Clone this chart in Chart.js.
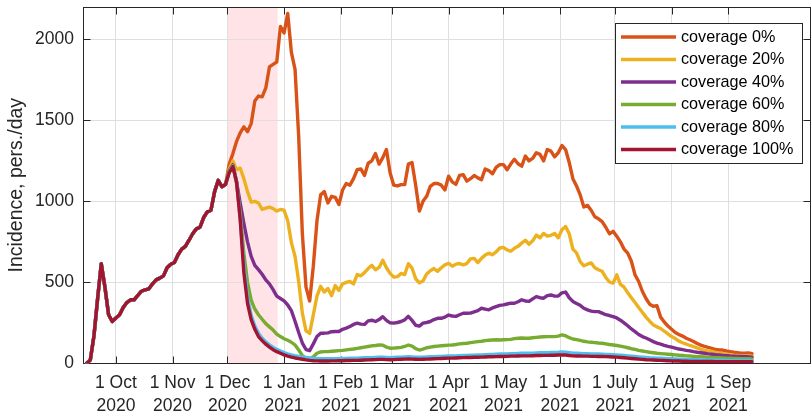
<!DOCTYPE html>
<html>
<head>
<meta charset="utf-8">
<script src="https://cdn.jsdelivr.net/npm/chart.js@4.4.0/dist/chart.umd.min.js"></script>
<style>
  html, body { margin: 0; padding: 0; background: #fff; }
  #wrap { width: 812px; height: 416px; }
</style>
</head>
<body>
<div id="wrap"><canvas id="c" width="812" height="416"></canvas></div>
<script>
// Time axis: days since 1 Oct 2020. Samples every second day from 15 Sep 2020 to 14 Sep 2021.
const firstDay = -16;
const stepDays = 2;

// Month ticks (days since 1 Oct 2020) and their two-line labels
const monthTicks = [0, 31, 61, 92, 123, 151, 182, 212, 243, 273, 304, 335];
const monthLabels = ['1 Oct', '1 Nov', '1 Dec', '1 Jan', '1 Feb', '1 Mar', '1 Apr', '1 May', '1 Jun', '1 July', '1 Aug', '1 Sep'];
const yearLabels = ['2020', '2020', '2020', '2021', '2021', '2021', '2021', '2021', '2021', '2021', '2021', '2021'];
const yTicks = [0, 500, 1000, 1500, 2000];

// Shaded period (1 Dec 2020 .. 29 Dec 2020)
const bandStart = 61;
const bandEnd = 88.5;

// Incidence common to all scenarios, 15 Sep .. 29 Nov 2020
const commonRise = [
  0, 20, 170, 400, 615, 470, 300, 258, 280, 300,
  345, 375, 392, 392, 420, 445, 454, 460, 490, 515,
  526, 540, 590, 612, 622, 670, 705, 722, 760, 800,
  830, 840, 900, 935, 945, 1060, 1130, 1090, 1105
];

// Scenario incidence from 1 Dec 2020 on (pers./day)
const cov0 = [
  1230, 1295, 1370, 1423, 1460, 1430, 1480, 1620, 1650, 1645,
  1700, 1830, 1846, 1860, 2080, 2040, 2160, 1920, 1815, 1400,
  800, 470, 385, 600, 880, 1040, 1060, 990, 1031, 1025,
  980, 1070, 1110, 1100, 1140, 1195, 1200, 1160, 1235, 1250,
  1295, 1230, 1270, 1320, 1176, 1100, 1095, 1103, 1103, 1230,
  1240, 1100, 940, 1000, 1031, 1093, 1110, 1110, 1100, 1070,
  1155, 1120, 1105, 1160, 1165, 1125, 1140, 1160, 1145, 1134,
  1200, 1190, 1170, 1210, 1227, 1227, 1195, 1230, 1260, 1232,
  1217, 1280, 1250, 1265, 1300, 1290, 1250, 1320, 1310, 1275,
  1300, 1345, 1320, 1240, 1140, 1095, 1040, 965, 975, 945,
  905, 892, 875, 840, 800, 815, 785, 750, 705, 680,
  630, 546, 505, 445, 400, 365, 352, 355, 285, 255,
  230, 210, 190, 178, 168, 155, 145, 135, 122, 112,
  105, 98, 92, 85, 82, 82, 76, 72, 68, 66,
  63, 62, 64, 60
];
const cov20 = [
  1200, 1250, 1195, 1205, 1140, 1060, 995, 1000, 990, 950,
  958, 965, 955, 940, 950, 945, 880, 745, 660, 505,
  310, 200, 185, 300, 415, 475, 440, 462, 418, 480,
  450, 490, 500, 505, 490, 548, 540, 560, 585, 605,
  578, 592, 636, 590, 555, 532, 535, 555, 548, 615,
  588, 522, 497, 508, 552, 572, 585, 568, 590, 608,
  618, 600, 612, 616, 608, 616, 645, 648, 622, 648,
  668, 680, 670, 688, 712, 716, 700, 692, 710, 722,
  742, 760, 735, 756, 792, 775, 802, 785, 790, 802,
  775, 825, 845, 800, 705, 682, 628, 602, 612, 620,
  590, 578, 568, 530, 502, 495, 546, 487, 470, 435,
  405, 375, 345, 315, 285, 260, 237, 225, 215, 198,
  182, 165, 153, 137, 127, 119, 110, 103, 95, 87,
  80, 76, 73, 68, 62, 59, 56, 53, 50, 48,
  47, 46, 45, 44
];
const cov40 = [
  1190, 1225, 1120, 990, 865, 750, 660, 605, 578, 550,
  515, 490, 455, 415, 400, 385, 360, 325, 260, 190,
  125, 85, 78, 120, 165, 186, 186, 188, 195, 196,
  196, 210, 217, 227, 240, 248, 242, 240, 262, 266,
  258, 270, 288, 265, 250, 248, 252, 258, 268, 290,
  265, 235, 230, 248, 252, 258, 270, 278, 278, 285,
  298, 292, 290, 300, 309, 309, 310, 318, 325, 340,
  335, 330, 342, 350, 358, 361, 366, 371, 371, 380,
  392, 385, 382, 398, 412, 405, 402, 418, 422, 415,
  415, 435, 440, 405, 382, 370, 358, 340, 330, 322,
  319, 319, 310, 300, 295, 288, 280, 266, 250, 232,
  212, 196, 178, 165, 156, 145, 134, 125, 118, 111,
  105, 100, 94, 88, 84, 80, 77, 72, 68, 65,
  62, 58, 56, 53, 51, 49, 47, 45, 44, 43,
  42, 41, 40, 38
];
const cov60 = [
  1185, 1220, 1110, 930, 680, 500, 390, 335, 300, 272,
  245, 225, 205, 180, 165, 152, 142, 130, 113, 82,
  48, 30, 27, 40, 62, 70, 72, 72, 74, 76,
  78, 80, 83, 86, 88, 92, 96, 100, 104, 108,
  110, 113, 112, 100, 93, 94, 96, 98, 104, 113,
  106, 90, 82, 88, 96, 100, 104, 106, 108, 110,
  112, 113, 116, 120, 122, 124, 128, 131, 134, 136,
  140, 142, 144, 145, 144, 145, 146, 148, 152, 155,
  156, 155, 155, 158, 160, 162, 164, 165, 165, 165,
  168, 175, 170, 158, 150, 146, 142, 136, 132, 130,
  128, 125, 124, 120, 116, 113, 110, 106, 101, 96,
  90, 86, 80, 76, 72, 68, 65, 62, 60, 58,
  56, 54, 52, 50, 48, 46, 45, 43, 41, 40,
  39, 37, 36, 35, 34, 33, 32, 31, 30, 30,
  29, 28, 28, 27
];
const cov80 = [
  1180, 1218, 1125, 895, 610, 410, 295, 230, 185, 155,
  132, 114, 98, 86, 76, 66, 58, 52, 47, 43,
  39, 36, 33, 31, 30, 29, 28, 28, 28, 29,
  29, 30, 30, 31, 31, 32, 33, 34, 34, 35,
  36, 37, 37, 36, 35, 36, 37, 38, 39, 40,
  39, 38, 37, 38, 39, 40, 41, 42, 43, 44,
  45, 45, 46, 47, 48, 49, 50, 50, 51, 52,
  53, 54, 55, 56, 57, 57, 58, 59, 60, 61,
  62, 62, 62, 63, 64, 65, 66, 66, 67, 67,
  68, 70, 69, 66, 63, 62, 61, 60, 59, 58,
  57, 57, 56, 55, 54, 53, 52, 50, 48, 46,
  44, 42, 40, 38, 36, 34, 33, 32, 31, 30,
  29, 28, 27, 26, 25, 24, 23, 22, 22, 21,
  21, 20, 20, 19, 19, 19, 18, 18, 18, 17,
  17, 17, 17, 16
];
const cov100 = [
  1178, 1215, 1120, 887, 560, 370, 270, 210, 165, 140,
  118, 100, 84, 72, 62, 52, 44, 38, 33, 29,
  25, 21, 18, 16, 15, 14, 14, 14, 15, 15,
  16, 16, 17, 17, 18, 18, 19, 20, 21, 22,
  23, 24, 24, 23, 22, 23, 24, 25, 26, 27,
  26, 25, 24, 25, 26, 27, 28, 29, 30, 31,
  32, 32, 33, 34, 35, 36, 36, 37, 37, 38,
  39, 40, 40, 41, 42, 42, 43, 44, 44, 45,
  46, 46, 46, 47, 48, 48, 49, 49, 50, 50,
  51, 52, 51, 48, 46, 45, 45, 44, 44, 43,
  43, 42, 42, 41, 40, 39, 38, 36, 34, 32,
  30, 28, 26, 24, 22, 21, 20, 19, 18, 17,
  16, 15, 14, 14, 13, 13, 12, 12, 12, 11,
  11, 11, 11, 10, 10, 10, 10, 10, 10, 10,
  10, 10, 10, 10
];

const scenarioNames = ['coverage 0%', 'coverage 20%', 'coverage 40%', 'coverage 60%', 'coverage 80%', 'coverage 100%'];
const scenarioTails = [cov0, cov20, cov40, cov60, cov80, cov100];
const scenarioColors = ['#D95319', '#EDB120', '#7E2F8E', '#77AC30', '#4DBEEE', '#A2142F'];

const FONT = "'Liberation Sans', Arial, Helvetica, sans-serif";
const AXIS_COLOR = '#262626';

function toPoints(tail) {
  const vals = commonRise.concat(tail);
  return vals.map((v, i) => ({ x: firstDay + stepDays * i, y: v }));
}

const datasets = scenarioNames.map((name, i) => ({
  label: name,
  data: toPoints(scenarioTails[i]),
  borderColor: scenarioColors[i],
  backgroundColor: scenarioColors[i],
  borderWidth: 3.4,
  pointRadius: 0,
  tension: 0,
  fill: false,
  borderJoinStyle: 'round',
  borderCapStyle: 'round',
  order: scenarioNames.length - i   // later scenarios drawn on top
}));

// Shaded period, box frame, inward tick marks and the legend
const framePlugin = {
  id: 'frame',
  beforeDraw(chart) {
    const { ctx, chartArea: a, scales: { x } } = chart;
    const x0 = x.getPixelForValue(bandStart);
    const x1 = x.getPixelForValue(bandEnd);
    ctx.save();
    ctx.fillStyle = 'rgb(255, 227, 230)';
    ctx.fillRect(x0, a.top, x1 - x0, a.bottom - a.top);
    ctx.restore();
  },
  beforeDatasetsDraw(chart) {
    const { ctx, chartArea: a, scales: { x, y } } = chart;
    const L = Math.round(a.left) + 0.5, R = Math.floor(a.right) + 0.5;
    const T = Math.round(a.top) + 0.5, B = Math.floor(a.bottom) + 0.5;
    const tl = 7;
    ctx.save();
    ctx.strokeStyle = AXIS_COLOR;
    ctx.lineWidth = 1;
    ctx.beginPath();
    monthTicks.forEach(v => {
      const px = Math.round(x.getPixelForValue(v)) + 0.5;
      ctx.moveTo(px, B); ctx.lineTo(px, B - tl);
      ctx.moveTo(px, T); ctx.lineTo(px, T + tl);
    });
    yTicks.forEach(v => {
      const py = Math.round(y.getPixelForValue(v)) + 0.5;
      ctx.moveTo(L, py); ctx.lineTo(L + tl, py);
      ctx.moveTo(R, py); ctx.lineTo(R - tl, py);
    });
    ctx.stroke();
    ctx.strokeRect(L, T, R - L, B - T);
    ctx.restore();
  },
  afterDraw(chart) {
    const { ctx } = chart;
    const box = { x: 615.5, y: 23.5, w: 187, h: 140 };
    ctx.save();
    ctx.fillStyle = '#fff';
    ctx.fillRect(box.x, box.y, box.w, box.h);
    ctx.strokeStyle = AXIS_COLOR;
    ctx.lineWidth = 1;
    ctx.strokeRect(box.x, box.y, box.w, box.h);
    ctx.font = `16.2px ${FONT}`;
    ctx.textBaseline = 'middle';
    ctx.textAlign = 'left';
    chart.data.datasets.forEach((ds, i) => {
      const cy = 37 + 22.5 * i;
      ctx.strokeStyle = ds.borderColor;
      ctx.lineWidth = 3.4;
      ctx.beginPath();
      ctx.moveTo(621, cy);
      ctx.lineTo(676, cy);
      ctx.stroke();
      ctx.fillStyle = '#000';
      ctx.fillText(ds.label, 681, cy + 0.5);
    });
    ctx.restore();
  }
};

new Chart(document.getElementById('c'), {
  type: 'line',
  data: { datasets },
  options: {
    responsive: false,
    animation: false,
    devicePixelRatio: 1,
    events: [],
    layout: { padding: { left: 0, right: 1.5, top: 7, bottom: 0 } },
    plugins: { legend: { display: false }, tooltip: { enabled: false } },
    scales: {
      x: {
        type: 'linear',
        min: -18,
        max: 380,
        afterBuildTicks(s) { s.ticks = monthTicks.map(v => ({ value: v })); },
        afterFit(s) { s.height = 52.7; s.paddingLeft = 0; s.paddingRight = 0; },
        ticks: {
          autoSkip: false,
          maxRotation: 0,
          padding: 8.5,
          color: AXIS_COLOR,
          font: { family: FONT, size: 17.5, lineHeight: 1.314 },
          callback(value) {
            const i = monthTicks.indexOf(value);
            return i < 0 ? '' : [monthLabels[i], yearLabels[i]];
          }
        },
        grid: { color: '#dfdfdf', lineWidth: 1, drawTicks: false },
        border: { display: false }
      },
      y: {
        type: 'linear',
        min: 0,
        max: 2200,
        afterBuildTicks(s) { s.ticks = yTicks.map(v => ({ value: v })); },
        afterFit(s) { s.width = 83; s.paddingTop = 0; s.paddingBottom = 0; },
        ticks: {
          padding: 9,
          color: AXIS_COLOR,
          font: { family: FONT, size: 17.5 },
          callback(value) { return String(value); }
        },
        grid: { color: '#dfdfdf', lineWidth: 1, drawTicks: false },
        border: { display: false },
        title: {
          display: true,
          text: 'Incidence, pers./day',
          color: AXIS_COLOR,
          font: { family: FONT, size: 19.5 },
          padding: { top: 5, bottom: 0 }
        }
      }
    }
  },
  plugins: [framePlugin]
});
</script>
</body>
</html>
